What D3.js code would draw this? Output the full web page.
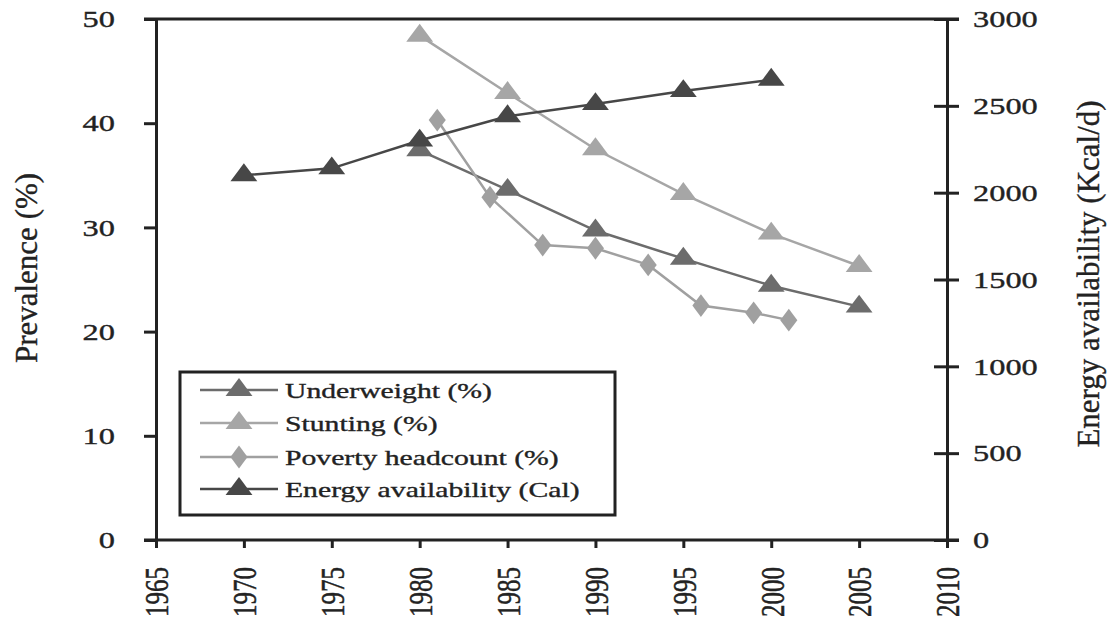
<!DOCTYPE html>
<html>
<head>
<meta charset="utf-8">
<script src="https://cdn.jsdelivr.net/npm/d3@7"></script>
<style>
  body { margin: 0; background: #fff; }
</style>
</head>
<body>
<div id="chart"></div>
<script>
// data
const years = [1965, 1970, 1975, 1980, 1985, 1990, 1995, 2000, 2005, 2010];
const leftTicks = [0, 10, 20, 30, 40, 50];
const rightTicks = [0, 500, 1000, 1500, 2000, 2500, 3000];

const underweightYears = [1980, 1985, 1990, 1995, 2000, 2005];
const underweight = [37.4, 33.6, 29.7, 27.0, 24.4, 22.4];

const stuntingYears = [1980, 1985, 1990, 1995, 2000, 2005];
const stunting = [48.4, 42.9, 37.5, 33.2, 29.4, 26.3];

const povertyYears = [1981, 1984, 1987, 1990, 1993, 1996, 1999, 2001];
const poverty = [40.3, 32.9, 28.3, 28.0, 26.4, 22.5, 21.8, 21.1];

const energyYears = [1970, 1975, 1980, 1985, 1990, 1995, 2000];
const energy = [2100, 2140, 2300, 2440, 2510, 2585, 2650];

const legendLabels = ["Underweight (%)", "Stunting (%)", "Poverty headcount (%)", "Energy availability (Cal)"];

// set the dimensions and margins of the graph
const W = 1110, H = 626;
const plotLeft = 156, plotRight = 947, plotTop = 19, plotBottom = 540;
const SX = 1.35; // text in the picture is stretched sideways
const FONT = '"Liberation Serif", "Times New Roman", Times, "DejaVu Serif", serif';
const TXT = "#222";

const svg = d3.select("#chart")
  .append("svg")
  .attr("width", W)
  .attr("height", H)
  .style("font-family", FONT);

const x = d3.scaleLinear().domain([1965, 2010]).range([plotLeft, plotRight]);
const yL = d3.scaleLinear().domain([0, 50]).range([plotBottom, plotTop]);
const yR = d3.scaleLinear().domain([0, 3000]).range([plotBottom, plotTop]);

const axisColor = "#222";

// small helper so every label gets the same look
function styleText(sel, size) {
  sel.style("font-family", FONT)
    .style("font-size", size + "px")
    .attr("fill", TXT)
    .attr("stroke", TXT)
    .attr("stroke-width", 0.35);
}

// top border
svg.append("line")
  .attr("x1", plotLeft - 12).attr("x2", plotRight + 12)
  .attr("y1", plotTop).attr("y2", plotTop)
  .attr("stroke", axisColor).attr("stroke-width", 3);

// left axis
const gL = svg.append("g")
  .attr("transform", `translate(${plotLeft},0)`)
  .call(d3.axisLeft(yL).tickValues(leftTicks).tickSize(12).tickSizeOuter(0));
gL.select(".domain").attr("stroke", axisColor).attr("stroke-width", 3);
gL.selectAll(".tick line").attr("stroke", axisColor).attr("stroke-width", 3);
gL.selectAll(".tick text")
  .attr("x", -41 / SX)
  .attr("transform", `scale(${SX},1)`)
  .call(styleText, 24);

// right axis, ticks cross the line
const gR = svg.append("g")
  .attr("transform", `translate(${plotRight},0)`)
  .call(d3.axisRight(yR).tickValues(rightTicks).tickSize(12).tickSizeOuter(0).tickFormat(d3.format("d")));
gR.select(".domain").attr("stroke", axisColor).attr("stroke-width", 3);
gR.selectAll(".tick line").attr("x1", -13).attr("stroke", axisColor).attr("stroke-width", 3);
gR.selectAll(".tick text")
  .attr("x", 26 / SX)
  .attr("transform", `scale(${SX},1)`)
  .call(styleText, 24);

// bottom axis
const gB = svg.append("g")
  .attr("transform", `translate(0,${plotBottom})`)
  .call(d3.axisBottom(x).tickValues(years).tickSize(8).tickSizeOuter(0).tickFormat(d3.format("d")));
gB.select(".domain").attr("d", `M${plotLeft - 12},0H${plotRight + 12}`)
  .attr("stroke", axisColor).attr("stroke-width", 3);
gB.selectAll(".tick line").attr("stroke", axisColor).attr("stroke-width", 3);
gB.selectAll(".tick text")
  .attr("x", 0).attr("y", 0).attr("dy", "0.35em")
  .attr("text-anchor", "end")
  .attr("transform", `translate(0,27) scale(${SX},1) rotate(-90)`)
  .call(styleText, 25);

// axis titles
svg.append("text")
  .attr("transform", "translate(26,268) rotate(-90)")
  .attr("text-anchor", "middle").attr("dy", "0.35em")
  .call(styleText, 31)
  .text("Prevalence (%)");
svg.append("text")
  .attr("transform", "translate(1088,274) rotate(-90)")
  .attr("text-anchor", "middle").attr("dy", "0.35em")
  .call(styleText, 31)
  .text("Energy availability (Kcal/d)");

// series
const tri = d3.symbol().type(d3.symbolTriangle).size(185);
const dia = d3.symbol().type(d3.symbolDiamond).size(150);

const series = [
  { xs: underweightYears, ys: underweight, scale: yL, color: "#6c6c6c", sym: tri },
  { xs: stuntingYears, ys: stunting, scale: yL, color: "#a6a6a6", sym: tri },
  { xs: povertyYears, ys: poverty, scale: yL, color: "#a0a0a0", sym: dia },
  { xs: energyYears, ys: energy, scale: yR, color: "#474747", sym: tri }
];

const line = d3.line();
series.forEach(s => {
  const pts = s.xs.map((yr, i) => [x(yr), s.scale(s.ys[i])]);
  svg.append("path")
    .attr("d", line(pts))
    .attr("fill", "none")
    .attr("stroke", s.color)
    .attr("stroke-width", 2.5);
  svg.selectAll(null)
    .data(pts)
    .join("path")
    .attr("d", s.sym)
    .attr("transform", d => `translate(${d[0]},${d[1]}) scale(1.3,1)`)
    .attr("fill", s.color);
});

// legend
const lg = svg.append("g");
lg.append("rect")
  .attr("x", 180).attr("y", 372).attr("width", 435).attr("height", 143)
  .attr("fill", "#fff").attr("stroke", axisColor).attr("stroke-width", 3);
const rowY = [390, 423, 457, 489];
series.forEach((s, i) => {
  lg.append("line")
    .attr("x1", 200).attr("x2", 278)
    .attr("y1", rowY[i]).attr("y2", rowY[i])
    .attr("stroke", s.color).attr("stroke-width", 2.5);
  lg.append("path")
    .attr("d", s.sym)
    .attr("transform", `translate(239,${rowY[i]}) scale(1.3,1)`)
    .attr("fill", s.color);
  lg.append("text")
    .attr("x", 285 / SX).attr("y", rowY[i]).attr("dy", "0.35em")
    .attr("transform", `scale(${SX},1)`)
    .call(styleText, 22)
    .text(legendLabels[i]);
});
</script>
</body>
</html>
